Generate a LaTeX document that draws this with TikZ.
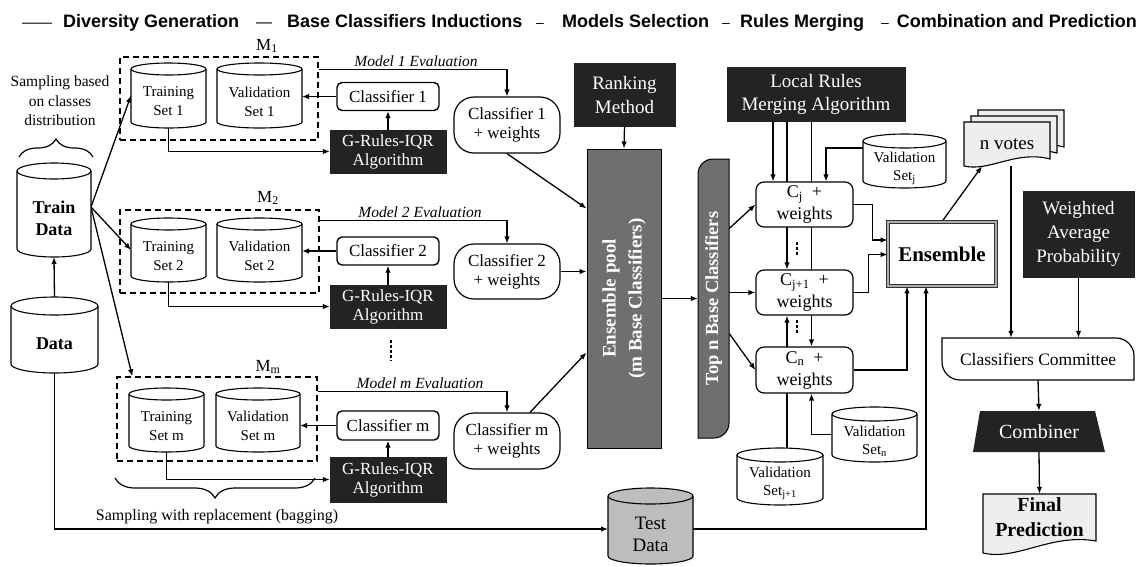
\documentclass[tikz,border=0pt]{standalone}
\usepackage{fontspec}
\setmainfont{Liberation Serif}
\newfontfamily\titlefont{Liberation Sans}
\usetikzlibrary{arrows.meta,backgrounds,decorations.pathreplacing}
\definecolor{boxblack}{HTML}{232323}
\definecolor{poolgray}{HTML}{6F6F6F}
\definecolor{tdgray}{HTML}{BDBDBD}
\definecolor{docgray}{HTML}{EEEEEE}
\newcommand\myfs[2]{\fontsize{#1}{#2}\selectfont}
% name, xL, yT, xR, yB (image coords), ry, fill, text, font
\newcommand\mycyl[9]{%
 \node[inner sep=0,outer sep=0,minimum width={(#4-#2)*1pt},minimum height={(#5-#3)*1pt}] (#1) at ({(#2+#4)/2},{-(#3+#5)/2}) {};
 \filldraw[cylline,fill=#7] (#2,{-#3-#6}) -- (#2,{-#5+#6}) arc[start angle=180,end angle=360,x radius={(#4-#2)/2},y radius=#6] -- (#4,{-#3-#6}) arc[start angle=0,end angle=180,x radius={(#4-#2)/2},y radius=#6] -- cycle;
 \draw[cylline] (#2,{-#3-#6}) arc[start angle=180,end angle=360,x radius={(#4-#2)/2},y radius=#6];
 \node[align=center,inner sep=0,font=#9] (#1-t) at ([yshift={-#6}]#1.center) {#8};
}
\tikzset{
 arr/.style={line width=1.3pt,-{Latex[length=7pt,width=5.5pt]}},
 conn/.style={line width=1.3pt},
 cylline/.style={line width=1.1pt},
 blackbox/.style={fill=boxblack,draw=boxblack,text=white,inner sep=0,align=center},
 clbox/.style={draw,line width=1.4pt,rounded corners=5pt,fill=white,inner sep=0},
 cwbox/.style={draw,line width=1.2pt,rounded corners=20pt,fill=white,inner sep=0,align=center},
 cbox/.style={draw,line width=1.2pt,rounded corners=8pt,fill=white,inner sep=0,align=center},
 dashbox/.style={draw,line width=1.4pt,dash pattern=on 6pt off 4pt,inner sep=0},
 ttl/.style={anchor=base west,inner sep=0,font=\titlefont\bfseries\myfs{18}{20}},
 ttldash/.style={anchor=base west,inner sep=0,font=\titlefont\myfs{15}{18}},
 dots/.style={line width=2pt,dash pattern=on 2.5pt off 2.5pt},
 bracestyle/.style={line width=1.2pt,decorate},
 vtext/.style={rotate=90,text=white,align=center,inner sep=0},
}
\begin{document}
\begin{tikzpicture}[x=1pt,y=1pt]
\useasboundingbox (0,0) rectangle (1143,-566);
\begin{pgfonlayer}{background}\fill[white] (0,0) rectangle (1143,-566);\end{pgfonlayer}

% ---------- title ----------
\node[ttldash] (tA) at (22,-27) {——};
\node[ttl] (tB) at (63,-27) {Diversity Generation};
\node[ttldash,font=\titlefont\myfs{16}{18}] (tC) at (256,-27) {—};
\node[ttl] (tD) at (287,-27) {Base Classifiers Inductions};
\node[ttldash,font=\titlefont\myfs{14}{18}] (tE) at (536,-27) {–};
\node[ttl] (tF) at (562,-27) {Models Selection};
\node[ttldash,font=\titlefont\myfs{14}{18}] (tG) at (722,-27) {–};
\node[ttl] (tH) at (740,-27) {Rules Merging};
\node[ttldash,font=\titlefont\myfs{14}{18}] (tI) at (881,-27) {–};
\node[ttl,anchor=base east] (tJ) at (1137,-27) {Combination and Prediction};

% ---------- left part ----------
\node[align=center,inner sep=0,font=\myfs{15.5}{19.5}] (samp1) at (60,-101) {Sampling based\\on classes\\distribution};
\draw[bracestyle,decoration={brace,amplitude=18pt}] (19,-157) -- (93,-157);
\mycyl{train}{17}{163}{91}{257}{8}{white}{Train\\Data}{\bfseries\myfs{18}{22}}
\mycyl{data}{11}{297}{98}{373}{9}{white}{Data}{\bfseries\myfs{18}{22}}

% model boxes
\node[dashbox,minimum width=198pt,minimum height=83pt] (m1) at (219,-98.5) {};
\node[dashbox,minimum width=199pt,minimum height=83pt] (m2) at (219.5,-251.5) {};
\node[dashbox,minimum width=200pt,minimum height=84pt] (mm) at (217,-419) {};
\node[anchor=base,inner sep=0,font=\myfs{17}{20}] (m1l) at (267,-50) {M\textsubscript{1}};
\node[anchor=base,inner sep=0,font=\myfs{17}{20}] (m2l) at (268,-202) {M\textsubscript{2}};
\node[anchor=base,inner sep=0,font=\myfs{17}{20}] (mml) at (268,-371) {M\textsubscript{m}};

\mycyl{ts1}{131}{63}{206}{128}{6}{white}{Training\\Set 1}{\myfs{15}{19}}
\mycyl{vs1}{217}{63}{302}{128}{6}{white}{Validation\\Set 1}{\myfs{15}{19}}
\mycyl{ts2}{131}{218}{206}{282}{6}{white}{Training\\Set 2}{\myfs{15}{19}}
\mycyl{vs2}{217}{218}{302}{282}{6}{white}{Validation\\Set 2}{\myfs{15}{19}}
\mycyl{tsm}{129}{388}{204}{452}{6}{white}{Training\\Set m}{\myfs{15}{19}}
\mycyl{vsm}{216}{388}{300}{452}{6}{white}{Validation\\Set m}{\myfs{15}{19}}

\node[clbox,minimum width=102pt,minimum height=28pt,font=\myfs{17}{20}] (cl1) at (388,-96.5) {Classifier\ 1};
\node[clbox,minimum width=102pt,minimum height=28pt,font=\myfs{17}{20}] (cl2) at (388,-251) {Classifier\ 2};
\node[clbox,minimum width=102pt,minimum height=29pt,font=\myfs{17}{20}] (clm) at (388,-425.5) {Classifier\ m};

\node[blackbox,minimum width=116pt,minimum height=43pt,font=\myfs{17}{19}] (gr1) at (388,-151.5) {G-Rules-IQR\\Algorithm};
\node[blackbox,minimum width=116pt,minimum height=43pt,font=\myfs{17}{19}] (gr2) at (388,-306.5) {G-Rules-IQR\\Algorithm};
\node[blackbox,minimum width=116pt,minimum height=45pt,font=\myfs{17}{19}] (grm) at (388,-479.5) {G-Rules-IQR\\Algorithm};
\draw[dots] (391,-340) -- (391,-361);

\node[anchor=base,inner sep=0,font=\itshape\myfs{15.5}{18}] (ev1) at (416,-66) {Model 1 Evaluation};
\node[anchor=base,inner sep=0,font=\itshape\myfs{15.5}{18}] (ev2) at (420,-217) {Model 2 Evaluation};
\node[anchor=base,inner sep=0,font=\itshape\myfs{15.5}{18}] (evm) at (420,-388) {Model m Evaluation};

\node[cwbox,minimum width=106pt,minimum height=56pt,font=\myfs{17}{19}] (cw1) at (507,-125) {Classifier 1\\+ weights};
\node[cwbox,minimum width=106pt,minimum height=55pt,font=\myfs{17}{19}] (cw2) at (507,-271.5) {Classifier 2\\+ weights};
\node[cwbox,minimum width=106pt,minimum height=56pt,font=\myfs{17}{19}] (cwm) at (507,-441) {Classifier m\\+ weights};

\draw[bracestyle,decoration={brace,amplitude=20pt}] (315,-478) -- (115,-478);
\node[inner sep=0,font=\myfs{16}{18}] (samp2) at (217,-517) {Sampling with replacement (bagging)};

% ---------- middle ----------
\node[blackbox,minimum width=101pt,minimum height=63pt,font=\myfs{19}{24}] (rank) at (624.5,-94.5) {Ranking\\Method};
\node[draw=black,line width=1pt,fill=poolgray,minimum width=74pt,minimum height=299pt,inner sep=0] (pool) at (624,-298.5) {};
\node[vtext,font=\bfseries\myfs{19}{26}] (pool-t) at (pool.center) {Ensemble pool\\(m Base Classifiers)};

\filldraw[fill=poolgray,line width=1pt] (698,-438) -- (698,-174) arc[start angle=180,end angle=90,radius=15] -- (729,-159) -- (729,-423) arc[start angle=0,end angle=-90,radius=15] -- cycle;
\node[minimum width=31pt,minimum height=279pt,inner sep=0] (topn) at (713.5,-298.5) {};
\node[vtext,font=\bfseries\myfs{18.5}{22}] (topn-t) at (topn.center) {Top n Base Classifiers};

\mycyl{td}{608}{488}{693}{564}{8}{tdgray}{Test\\Data}{\myfs{19}{22}}

% ---------- rules merging ----------
\node[blackbox,minimum width=178pt,minimum height=54pt,font=\myfs{19}{23}] (lrma) at (816,-94) {Local Rules\\Merging Algorithm};
\mycyl{vsj}{863}{134}{946}{188}{7}{white}{Validation\\Set\textsubscript{j}}{\myfs{15}{18}}
\mycyl{vsn}{832}{407}{917}{462}{7}{white}{Validation\\Set\textsubscript{n}}{\myfs{15}{18}}
\mycyl{vsj1}{737}{448}{823}{505}{7}{white}{Validation\\Set\textsubscript{j+1}}{\myfs{15}{18}}

\node[cbox,minimum width=97pt,minimum height=45pt,font=\myfs{18}{22}] (cj) at (804.5,-204.5) {C\textsubscript{j}\ \ +\\weights};
\node[cbox,minimum width=97pt,minimum height=45pt,font=\myfs{18}{22}] (cj1) at (804.5,-292.5) {C\textsubscript{j+1}\ \ +\\weights};
\node[cbox,minimum width=97pt,minimum height=46pt,font=\myfs{18}{22}] (cn) at (804.5,-370) {C\textsubscript{n}\ \ +\\weights};
\draw[dots] (797,-242) -- (797,-255);
\draw[dots] (797,-320) -- (797,-333);

% ---------- combination ----------
\node[draw=black!80,line width=0.8pt,double=gray!65,double distance=2pt,fill=white,minimum width=108pt,minimum height=64pt,inner sep=0,font=\bfseries\myfs{21}{24}] (ens) at (942,-254) {Ensemble};

\filldraw[fill=docgray,line width=1.1pt] (978,-110) -- (1064,-110) -- (1064,-147) .. controls (1029.6,-138) and (1003.8,-160) .. (978,-154) -- cycle;
\filldraw[fill=docgray,line width=1.1pt] (971,-116) -- (1057,-116) -- (1057,-153) .. controls (1022.6,-144) and (996.8,-166) .. (971,-160) -- cycle;
\filldraw[fill=docgray,line width=1.1pt] (964,-122) -- (1050,-122) -- (1050,-159) .. controls (1015.6,-150) and (989.8,-172) .. (964,-166) -- cycle;
\node[minimum width=86pt,minimum height=44pt,inner sep=0,font=\myfs{19}{22}] (nv) at (1007,-144) {n votes};

\node[blackbox,minimum width=111pt,minimum height=86pt,font=\myfs{19}{24}] (wap) at (1078.5,-234) {Weighted\\Average\\Probability};

\filldraw[fill=white,line width=1.2pt] (942,-338) -- (1116,-338) arc[start angle=90,end angle=0,radius=18] -- (1134,-380) -- (960,-380) arc[start angle=270,end angle=180,radius=18] -- cycle;
\node[minimum width=192pt,minimum height=42pt,inner sep=0,font=\myfs{17.5}{20}] (cc) at (1038,-359) {Classifiers Committee};

\fill[boxblack] (980,-411) -- (1095,-411) -- (1105,-452) -- (973,-452) -- cycle;
\node[minimum width=122pt,minimum height=41pt,inner sep=0,text=white,font=\myfs{20}{22}] (comb) at (1039,-431.5) {Combiner};

\filldraw[fill=docgray,line width=1.1pt] (983,-494) -- (1096,-494) -- (1096,-541) .. controls (1050.8,-533) and (1016.9,-561) .. (983,-553) -- cycle;
\node[minimum width=113pt,minimum height=47pt,inner sep=0,align=center,font=\bfseries\myfs{20}{25}] (fp) at (1039.5,-517.5) {Final\\Prediction};

% ---------- connectors ----------
\begin{pgfonlayer}{background}
\draw[arr] (data.north) -- (train.south);
\draw[arr] ([yshift=3pt]train.east) -- (ts1.west);
\draw[arr] ([yshift=3pt]train.east) -- (ts2.west);
\draw[arr] ([yshift=3pt]train.east) -- ([xshift=16pt]mm.north west);
\draw[arr] (data.south) |- ([yshift=-3pt]td.west);

\draw[arr] (ts1.south) |- (gr1.west);
\draw[arr] (ts2.south) |- (gr2.west);
\draw[arr] (tsm.south) |- (grm.west);
\draw[arr] (gr1.north) -- (cl1.south);
\draw[arr] (gr2.north) -- (cl2.south);
\draw[arr] (grm.north) -- (clm.south);
\draw[arr] (cl1.west) -- (vs1.east |- cl1.west);
\draw[arr] (cl2.west) -- (vs2.east |- cl2.west);
\draw[arr] (clm.west) -- (vsm.east |- clm.west);

\draw[arr] ([yshift=-13pt]m1.north east) -| (cw1.north);
\draw[arr] ([yshift=-11pt]m2.north east) -| (cw2.north);
\draw[arr] ([yshift=-15pt]mm.north east) -| (cwm.north);

\draw[arr] (cw1.south) -- ([yshift=90pt]pool.west);
\draw[arr] (cw2.east) -- (cw2.east -| pool.west);
\draw[arr] ([xshift=23pt]cwm.north) -- ([yshift=-54pt]pool.west);
\draw[arr] (rank.south) -- (pool.north);
\draw[arr] (pool.east) -- (topn.west);

\draw[arr] ([yshift=70pt]topn.east) -- (cj.west);
\draw[arr] (topn.east |- cj1.west) -- (cj1.west);
\draw[arr] ([yshift=-35pt]topn.east) -- (cn.west);

\draw[arr] ([xshift=-43pt]lrma.south) -- ([xshift=-31.5pt]cj.north);
\draw[arr] ([xshift=-29pt]lrma.south) -- ([xshift=-17.5pt]cj1.north);
\draw[arr] ([xshift=-4.5pt]lrma.south) -- ([xshift=7pt]cn.north);
\draw[arr] ([yshift=13pt]vsj.west) -| ([xshift=21.5pt]cj.north);
\draw[arr] ([xshift=7pt]vsj1.north) -- ([xshift=-17.5pt]cj1.south);
\draw[arr] (vsn.west) -| ([xshift=7pt]cn.south);

\draw[arr] (cj.east) -- ++(19,0) |- ([yshift=14pt]ens.west);
\draw[arr] (cj1.east) -- ++(15,0) |- ([yshift=-0.5pt]ens.west);
\draw[arr] (cn.east) -| ([xshift=-35pt]ens.south);
\draw[arr] ([yshift=-3pt]td.east) -| ([xshift=-16pt]ens.south);

\draw[arr] (ens.north) -- ([xshift=-25pt]nv.south);
\draw[arr] ([xshift=4pt]nv.south) -- ([xshift=4pt]nv.south |- cc.north);
\draw[arr] (wap.south) -- (wap.south |- cc.north);
\draw[arr] (cc.south) -- (comb.north);
\draw[arr] (comb.south) -- (fp.north);
\end{pgfonlayer}
\end{tikzpicture}
\end{document}
